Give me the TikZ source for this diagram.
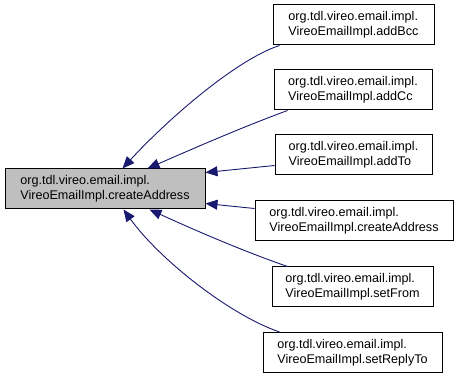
\documentclass[tikz,border=0pt]{standalone}
\usepackage{fontspec}
\setmainfont{Liberation Sans}
\usetikzlibrary{arrows.meta}
\definecolor{edgeblue}{HTML}{191970}
\definecolor{focusgray}{HTML}{BFBFBF}
\begin{document}
\begin{tikzpicture}[x=1pt,y=-1pt,
  fn/.style={draw=black, line width=1pt, fill=white, rectangle, align=left,
    minimum height=40pt, inner sep=0pt,
    font=\fontsize{12.6}{15}\selectfont},
  focus/.style={fn, fill=focusgray},
  calls/.style={draw=edgeblue, line width=0.9pt,
    -{Triangle[length=12pt,width=10pt]}, color=edgeblue}]
\useasboundingbox (0,0) rectangle (459,377);

% caller boxes and the function they all call
\node[focus, minimum width=200pt] (main) at (105,189)
  {org.tdl.vireo.email.impl.\\VireoEmailImpl.createAddress};
\node[fn, minimum width=161pt] (addBcc) at (353.5,25)
  {org.tdl.vireo.email.impl.\\VireoEmailImpl.addBcc};
\node[fn, minimum width=158pt] (addCc) at (353,90)
  {org.tdl.vireo.email.impl.\\VireoEmailImpl.addCc};
\node[fn, minimum width=157pt] (addTo) at (353.5,155)
  {org.tdl.vireo.email.impl.\\VireoEmailImpl.addTo};
\node[fn, minimum width=198pt] (create) at (354,221)
  {org.tdl.vireo.email.impl.\\VireoEmailImpl.createAddress};
\node[fn, minimum width=161pt] (setFrom) at (352.5,287)
  {org.tdl.vireo.email.impl.\\VireoEmailImpl.setFrom};
\node[fn, minimum width=179pt] (setReplyTo) at (352.5,352.5)
  {org.tdl.vireo.email.impl.\\VireoEmailImpl.setReplyTo};

% call edges, arrow at the called function
\draw[calls] ([xshift=7pt]addBcc.south west)
  .. controls (235,60) and (165,122) .. ([xshift=118pt]main.north west);
\draw[calls] ([xshift=14pt]addCc.south west)
  .. controls (240,128) and (190,150) .. ([xshift=143pt]main.north west);
\draw[calls] ([yshift=10pt]addTo.south west) -- ([yshift=-4pt]main.north east);
\draw[calls] ([yshift=-8pt]create.north west) -- ([yshift=6pt]main.south east);
\draw[calls] ([xshift=16pt]setFrom.north west)
  .. controls (240,250) and (190,228) .. ([xshift=145pt]main.south west);
\draw[calls] ([xshift=17pt]setReplyTo.north west)
  .. controls (230,315) and (160,260) .. ([xshift=119pt]main.south west);
\end{tikzpicture}
\end{document}
